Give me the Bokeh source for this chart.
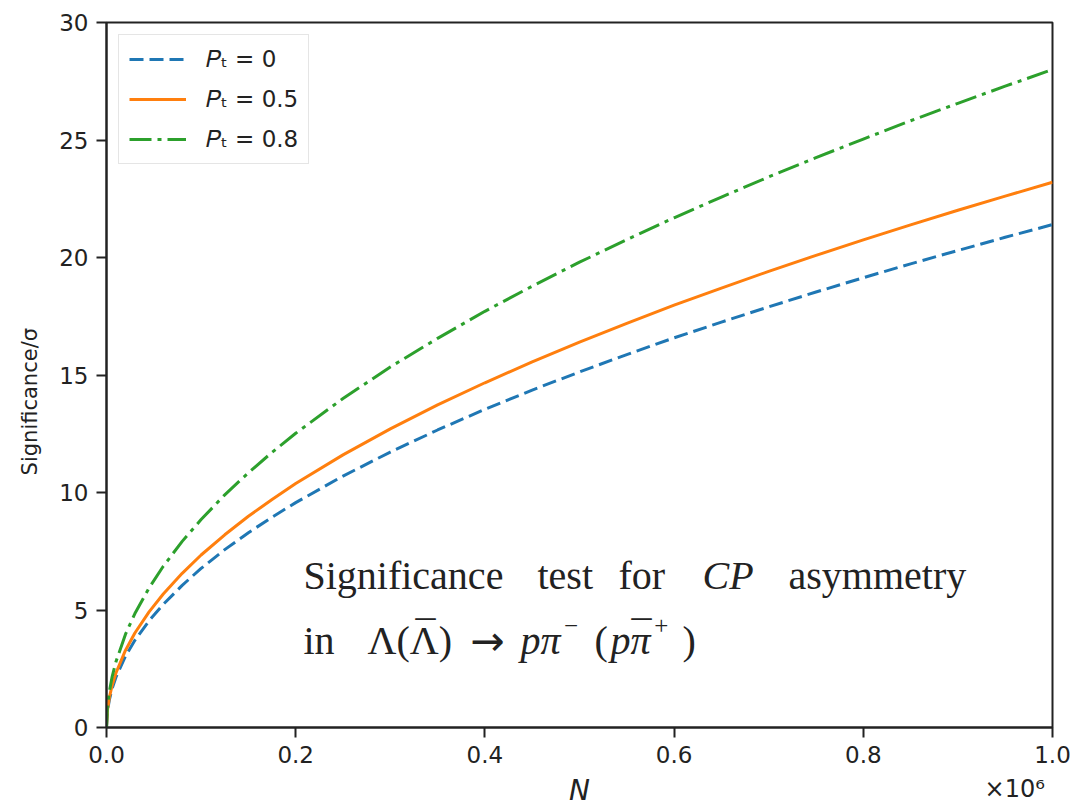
from bokeh.plotting import figure
from bokeh.models import Range1d, Legend, LegendItem, Label, FixedTicker, LinearAxis
from bokeh.embed import file_html
from bokeh.resources import INLINE

# N in units of 10^6
N = [0.0, 0.001, 0.003, 0.006, 0.01, 0.02, 0.03, 0.045, 0.06, 0.08, 0.1, 0.125, 0.15, 0.175, 0.2,
     0.25, 0.3, 0.35, 0.4, 0.45, 0.5, 0.55, 0.6, 0.65, 0.7, 0.75, 0.8, 0.85, 0.9, 0.95, 1.0]
sig_p0 = [0.0, 0.68, 1.17, 1.66, 2.14, 3.03, 3.71, 4.54, 5.24, 6.05, 6.77, 7.57, 8.29, 8.95, 9.57,
          10.7, 11.72, 12.66, 13.54, 14.36, 15.13, 15.87, 16.58, 17.25, 17.9, 18.53, 19.14, 19.73, 20.3, 20.86, 21.4]
sig_p05 = [0.0, 0.73, 1.27, 1.8, 2.32, 3.28, 4.02, 4.92, 5.68, 6.56, 7.34, 8.2, 8.99, 9.7, 10.38,
           11.6, 12.71, 13.73, 14.67, 15.56, 16.4, 17.2, 17.97, 18.7, 19.41, 20.09, 20.75, 21.39, 22.01, 22.61, 23.2]
sig_p08 = [0.0, 0.89, 1.53, 2.17, 2.8, 3.96, 4.85, 5.94, 6.86, 7.92, 8.85, 9.9, 10.84, 11.71, 12.52,
           14.0, 15.34, 16.56, 17.71, 18.78, 19.8, 20.76, 21.69, 22.57, 23.43, 24.25, 25.04, 25.82, 26.56, 27.29, 28.0]
labels = ["𝑃ₜ = 0", "𝑃ₜ = 0.5", "𝑃ₜ = 0.8"]
x_ticks = [0.0, 0.2, 0.4, 0.6, 0.8, 1.0]
y_ticks = [0, 5, 10, 15, 20, 25, 30]
offset_text = "×10⁶"

p = figure(width=1075, height=809, output_backend="svg", toolbar_location=None,
           x_range=Range1d(0, 1.0), y_range=Range1d(0, 30),
           min_border_left=106, min_border_right=23, min_border_top=22, min_border_bottom=82)
p.background_fill_color = "white"
p.border_fill_color = "white"
p.grid.visible = False
p.outline_line_color = "#222222"
p.outline_line_width = 2

for ax in (p.xaxis[0], p.yaxis[0]):
    ax.axis_line_color = "#222222"
    ax.axis_line_width = 2
    ax.major_tick_line_color = "#222222"
    ax.major_tick_line_width = 2
    ax.major_tick_out = 10
    ax.major_tick_in = 0
    ax.minor_tick_line_color = None
    ax.major_label_text_font = "DejaVu Sans"
    ax.major_label_text_font_size = "23px"
    ax.major_label_text_color = "#222222"
    ax.axis_label_text_color = "#222222"

p.xaxis.ticker = FixedTicker(ticks=x_ticks)
p.yaxis.ticker = FixedTicker(ticks=y_ticks)
p.xaxis.major_label_overrides = {t: f"{t:.1f}" for t in x_ticks}
p.xaxis.major_label_standoff = 8
p.yaxis.major_label_standoff = 8

p.yaxis.axis_label = "Significance/σ" + "\u00a0" * 8
p.yaxis.axis_label_text_font = "DejaVu Sans"
p.yaxis.axis_label_text_font_style = "normal"
p.yaxis.axis_label_text_font_size = "21px"
p.yaxis.axis_label_standoff = 14

# second (label-only) axis below: carries the "x10^6" offset text and the "N" label
ax2 = LinearAxis(ticker=FixedTicker(ticks=[0.96]),
                 major_label_overrides={0.96: offset_text},
                 axis_line_color=None, major_tick_line_color=None, minor_tick_line_color=None,
                 major_tick_out=0, major_tick_in=0, major_label_standoff=9,
                 major_label_text_font="DejaVu Sans", major_label_text_font_size="24px",
                 major_label_text_color="#222222",
                 axis_label="N", axis_label_text_font="DejaVu Sans",
                 axis_label_text_font_style="italic", axis_label_text_font_size="28px",
                 axis_label_text_color="#222222", axis_label_standoff=-32)
p.add_layout(ax2, "below")

r0 = p.line(N, sig_p0, line_color="#1f77b4", line_width=3, line_dash="14 6")
r1 = p.line(N, sig_p05, line_color="#ff7f0e", line_width=3)
r2 = p.line(N, sig_p08, line_color="#2ca02c", line_width=3, line_dash="22 6 4 6")

legend = Legend(items=[LegendItem(label=labels[0], renderers=[r0]),
                       LegendItem(label=labels[1], renderers=[r1]),
                       LegendItem(label=labels[2], renderers=[r2])],
                location="top_left", margin=12, padding=10, spacing=12,
                glyph_width=57, glyph_height=28, label_height=28, label_standoff=20,
                label_text_font="DejaVu Sans", label_text_font_size="23px",
                label_text_color="#222222",
                border_line_color="#cccccc", border_line_width=1.5,
                background_fill_color="white", background_fill_alpha=0.8)
p.add_layout(legend)

# annotation
serif = "Liberation Serif"
fs = "40px"
y1, y2 = 6.47, 3.70
ann = [
    (0.2082, y1, "Significance", serif, "normal", fs, 0),
    (0.4556, y1, "test", serif, "normal", fs, 0),
    (0.5412, y1, "for", serif, "normal", fs, 0),
    (0.6300, y1, "CP", serif, "italic", fs, 0),
    (0.7209, y1, "asymmetry", serif, "normal", fs, 0),
    (0.2082, y2, "in", serif, "normal", fs, 0),
    (0.2759, y2, "Λ(Λ)", serif, "normal", fs, 0),
    (0.3848, y2, "→", "DejaVu Sans", "normal", "41px", 0),
    (0.4376, y2, "pπ", serif, "italic", fs, 0),
    (0.4835, y2, "−", serif, "normal", "25px", 15),
    (0.5159, y2, "(", serif, "normal", fs, 0),
    (0.5328, y2, "pπ", serif, "italic", fs, 0),
    (0.5790, y2, "+", serif, "normal", "25px", 15),
    (0.6089, y2, ")", serif, "normal", fs, 0),
]
for ax_, ay_, t, fnt, st, size, yo in ann:
    p.add_layout(Label(x=ax_, y=ay_, y_offset=yo, text=t, text_font=fnt, text_font_size=size,
                       text_font_style=st, text_color="#222222", text_baseline="alphabetic"))
# macrons (bars) over anti-particles
for mx in (0.3372, 0.5655):
    p.add_layout(Label(x=mx, y=y2, y_offset=5, text="¯", text_font=serif, text_font_size=fs,
                       text_color="#222222", text_align="center", text_baseline="alphabetic"))

open("out.html", "w").write(file_html(p, INLINE))
